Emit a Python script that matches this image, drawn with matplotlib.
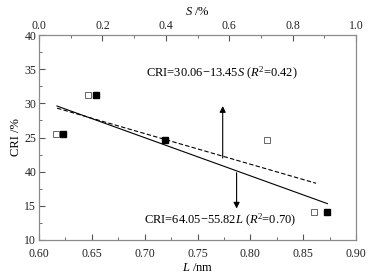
import matplotlib
matplotlib.use("Agg")
import matplotlib.pyplot as plt
from matplotlib.ticker import MultipleLocator, FixedLocator, FixedFormatter
import numpy as np

plt.rcParams['font.family'] = 'Liberation Serif'
plt.rcParams['mathtext.fontset'] = 'custom'
plt.rcParams['mathtext.rm'] = 'Liberation Serif'
plt.rcParams['mathtext.it'] = 'Liberation Serif:italic'

# data
L_nm = [0.623, 0.654, 0.7195, 0.873]
S_pct = [0.053, 0.154, 0.718, 0.868]
cri = [25.5, 31.2, 24.6, 14.1]
y_ticks = [10, 15, 20, 25, 30, 35, 40]
y_tick_labels = ["10", "15", "40", "25", "30", "35", "40"]

fig = plt.figure(figsize=(3.72, 2.80), dpi=100)
ax = fig.add_axes([39/372, 1 - 240/280, 317/372, 205/280])
ax2 = ax.twiny()

spine_c = '#8a8a8a'
for a in (ax, ax2):
    for s in a.spines.values():
        s.set_color(spine_c)
        s.set_linewidth(0.8)

# L series (bottom axis)
ax.plot(L_nm, cri, 's', color='black', markersize=3.8, zorder=3)
Lfit = np.linspace(min(L_nm) - 0.006, max(L_nm), 2)
ax.plot(Lfit, 64.05 - 55.82 * Lfit, '-', color='black', linewidth=0.8)

# S series (top axis)
ax2.plot(S_pct, cri, 's', markerfacecolor='white', markeredgecolor='#666666',
         markeredgewidth=0.7, markersize=3.8, zorder=3)
Sfit = np.linspace(min(S_pct) + 0.004, max(S_pct) + 0.006, 2)
ax2.plot(Sfit, 30.06 - 13.45 * Sfit, '--', color='black', linewidth=0.8,
         dashes=(4, 2))

ax.set_xlim(0.60, 0.90)
ax.set_ylim(10, 40)
ax2.set_xlim(0.0, 1.0)

# arrows
ax2.annotate('', xy=(0.5795, 29.6), xytext=(0.5795, 22.0),
             arrowprops=dict(arrowstyle='-|>', color='black', lw=0.8,
                             mutation_scale=9, shrinkA=0, shrinkB=0))
ax.annotate('', xy=(0.787, 14.6), xytext=(0.787, 19.85),
            arrowprops=dict(arrowstyle='-|>', color='black', lw=0.8,
                            mutation_scale=9, shrinkA=0, shrinkB=0))

fs = 9
tfs = 8.5
fig.text(146/372, 1 - 73/280, r'CRI=30.06$-$13.45$S$ ($R$$^2$=0.42)',
         fontsize=fs, va='center', ha='left')
fig.text(144/372, 1 - 220/280, r'CRI=64.05$-$55.82$L$ ($R$$^2$=0.70)',
         fontsize=fs, va='center', ha='left')

ax.xaxis.set_major_locator(MultipleLocator(0.05))
ax.xaxis.set_minor_locator(MultipleLocator(0.025))
ax.xaxis.set_major_formatter(plt.FormatStrFormatter('%.2f'))
ax.yaxis.set_major_locator(FixedLocator(y_ticks))
ax.yaxis.set_major_formatter(FixedFormatter(y_tick_labels))
ax.yaxis.set_minor_locator(MultipleLocator(2.5))
ax2.xaxis.set_major_locator(MultipleLocator(0.2))
ax2.xaxis.set_minor_locator(MultipleLocator(0.1))
ax2.xaxis.set_major_formatter(plt.FormatStrFormatter('%.1f'))

ax.tick_params(axis='both', which='both', direction='in', colors='#222222',
               labelsize=tfs, pad=2)
ax.tick_params(axis='x', which='both', pad=5.5)
ax.tick_params(axis='both', which='major', length=4, color='#555555')
ax.tick_params(axis='both', which='minor', length=2, color='#555555')
ax.tick_params(axis='y', right=False)
ax2.tick_params(axis='x', which='both', direction='in', labelsize=tfs, pad=2,
                colors='#222222')
ax2.tick_params(axis='x', which='major', length=4, color='#555555')
ax2.tick_params(axis='x', which='minor', length=2, color='#555555')

ax.set_xlabel(r'$L$ /nm', fontsize=fs, labelpad=2)
ax.set_ylabel('CRI /%', fontsize=fs, labelpad=2)
ax2.set_xlabel(r'$S$ /%', fontsize=fs, labelpad=4)

fig.savefig('out.png', dpi=100)
